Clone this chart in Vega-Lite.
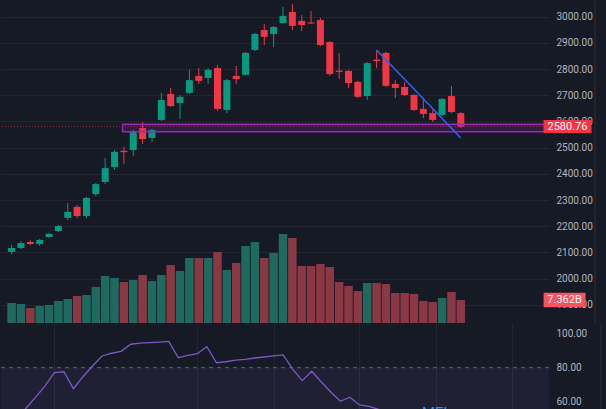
{
  "$schema": "https://vega.github.io/schema/vega-lite/v6.json",
  "background": "#161a25",
  "padding": 0,
  "spacing": 0,
  "bounds": "flush",
  "config": {
    "font": "Roboto",
    "view": {"stroke": null},
    "locale": {"number": {"decimal": ".", "thousands": ",", "grouping": [3], "currency": ["", "B"]}}
  },
  "datasets": {
    "candles": [
      {"i": 1, "o": 2102, "h": 2129, "l": 2094, "c": 2117, "v": 6.4, "dir": "up"},
      {"i": 2, "o": 2117, "h": 2143, "l": 2113, "c": 2136, "v": 6.08, "dir": "up"},
      {"i": 3, "o": 2140, "h": 2147, "l": 2128, "c": 2132, "v": 4.8, "dir": "down"},
      {"i": 4, "o": 2132, "h": 2152, "l": 2125, "c": 2148, "v": 5.44, "dir": "up"},
      {"i": 5, "o": 2159, "h": 2175, "l": 2156, "c": 2171, "v": 5.76, "dir": "up"},
      {"i": 6, "o": 2182, "h": 2205, "l": 2178, "c": 2201, "v": 7.04, "dir": "up"},
      {"i": 7, "o": 2232, "h": 2289, "l": 2224, "c": 2255, "v": 7.68, "dir": "up"},
      {"i": 8, "o": 2274, "h": 2281, "l": 2231, "c": 2239, "v": 8.64, "dir": "down"},
      {"i": 9, "o": 2239, "h": 2312, "l": 2231, "c": 2308, "v": 8.96, "dir": "up"},
      {"i": 10, "o": 2323, "h": 2365, "l": 2315, "c": 2361, "v": 11.52, "dir": "up"},
      {"i": 11, "o": 2369, "h": 2461, "l": 2361, "c": 2422, "v": 15.04, "dir": "up"},
      {"i": 12, "o": 2426, "h": 2491, "l": 2415, "c": 2484, "v": 14.4, "dir": "up"},
      {"i": 13, "o": 2488, "h": 2503, "l": 2438, "c": 2483, "v": 13.12, "dir": "down"},
      {"i": 14, "o": 2491, "h": 2568, "l": 2469, "c": 2560, "v": 13.76, "dir": "up"},
      {"i": 15, "o": 2575, "h": 2598, "l": 2514, "c": 2533, "v": 15.36, "dir": "down"},
      {"i": 16, "o": 2537, "h": 2572, "l": 2522, "c": 2568, "v": 13.44, "dir": "up"},
      {"i": 17, "o": 2606, "h": 2709, "l": 2602, "c": 2682, "v": 15.36, "dir": "up"},
      {"i": 18, "o": 2705, "h": 2728, "l": 2655, "c": 2659, "v": 18.56, "dir": "down"},
      {"i": 19, "o": 2671, "h": 2701, "l": 2610, "c": 2694, "v": 16.64, "dir": "up"},
      {"i": 20, "o": 2709, "h": 2797, "l": 2705, "c": 2758, "v": 20.8, "dir": "up"},
      {"i": 21, "o": 2774, "h": 2804, "l": 2743, "c": 2755, "v": 20.8, "dir": "down"},
      {"i": 22, "o": 2766, "h": 2804, "l": 2743, "c": 2797, "v": 20.8, "dir": "up"},
      {"i": 23, "o": 2804, "h": 2816, "l": 2640, "c": 2648, "v": 22.72, "dir": "down"},
      {"i": 24, "o": 2644, "h": 2762, "l": 2632, "c": 2758, "v": 16.96, "dir": "up"},
      {"i": 25, "o": 2774, "h": 2812, "l": 2743, "c": 2762, "v": 19.2, "dir": "down"},
      {"i": 26, "o": 2778, "h": 2866, "l": 2774, "c": 2862, "v": 24.64, "dir": "up"},
      {"i": 27, "o": 2873, "h": 2938, "l": 2869, "c": 2934, "v": 25.92, "dir": "up"},
      {"i": 28, "o": 2949, "h": 2972, "l": 2892, "c": 2923, "v": 20.8, "dir": "down"},
      {"i": 29, "o": 2934, "h": 2964, "l": 2884, "c": 2961, "v": 22.4, "dir": "up"},
      {"i": 30, "o": 2976, "h": 3037, "l": 2972, "c": 3003, "v": 28.48, "dir": "up"},
      {"i": 31, "o": 3018, "h": 3048, "l": 2949, "c": 2965, "v": 27.2, "dir": "down"},
      {"i": 32, "o": 2984, "h": 3006, "l": 2945, "c": 2968, "v": 18.24, "dir": "down"},
      {"i": 33, "o": 2978, "h": 3022, "l": 2972, "c": 2974, "v": 18.24, "dir": "down"},
      {"i": 34, "o": 2987, "h": 2995, "l": 2888, "c": 2892, "v": 18.88, "dir": "down"},
      {"i": 35, "o": 2903, "h": 2907, "l": 2774, "c": 2781, "v": 17.92, "dir": "down"},
      {"i": 36, "o": 2794, "h": 2861, "l": 2762, "c": 2789, "v": 13.12, "dir": "down"},
      {"i": 37, "o": 2793, "h": 2797, "l": 2728, "c": 2747, "v": 11.84, "dir": "down"},
      {"i": 38, "o": 2751, "h": 2755, "l": 2690, "c": 2694, "v": 10.24, "dir": "down"},
      {"i": 39, "o": 2697, "h": 2827, "l": 2682, "c": 2823, "v": 12.8, "dir": "up"},
      {"i": 40, "o": 2836, "h": 2873, "l": 2804, "c": 2831, "v": 12.8, "dir": "down"},
      {"i": 41, "o": 2862, "h": 2866, "l": 2732, "c": 2736, "v": 12.48, "dir": "down"},
      {"i": 42, "o": 2743, "h": 2758, "l": 2690, "c": 2728, "v": 9.6, "dir": "down"},
      {"i": 43, "o": 2732, "h": 2751, "l": 2697, "c": 2701, "v": 9.6, "dir": "down"},
      {"i": 44, "o": 2701, "h": 2705, "l": 2640, "c": 2644, "v": 9.28, "dir": "down"},
      {"i": 45, "o": 2648, "h": 2686, "l": 2613, "c": 2629, "v": 7.04, "dir": "down"},
      {"i": 46, "o": 2632, "h": 2644, "l": 2598, "c": 2606, "v": 6.72, "dir": "down"},
      {"i": 47, "o": 2625, "h": 2690, "l": 2621, "c": 2686, "v": 8.0, "dir": "up"},
      {"i": 48, "o": 2697, "h": 2735, "l": 2632, "c": 2636, "v": 9.92, "dir": "down"},
      {"i": 49, "o": 2632, "h": 2636, "l": 2575, "c": 2580.76, "v": 7.362, "dir": "down"}
    ],
    "mfi": [
      {"i": 1, "m": 40}, {"i": 2, "m": 47}, {"i": 3, "m": 56}, {"i": 4, "m": 62.4},
      {"i": 5, "m": 69.2}, {"i": 6, "m": 77.1}, {"i": 7, "m": 77.6}, {"i": 8, "m": 67.6},
      {"i": 9, "m": 74.7}, {"i": 10, "m": 81.0}, {"i": 11, "m": 86.9}, {"i": 12, "m": 88.5},
      {"i": 13, "m": 89.6}, {"i": 14, "m": 93.8}, {"i": 15, "m": 94.4}, {"i": 16, "m": 94.7},
      {"i": 17, "m": 95.1}, {"i": 18, "m": 95.5}, {"i": 19, "m": 85.9}, {"i": 20, "m": 87.3},
      {"i": 21, "m": 88.2}, {"i": 22, "m": 92.4}, {"i": 23, "m": 82.9}, {"i": 24, "m": 83.5},
      {"i": 25, "m": 84.4}, {"i": 26, "m": 84.9}, {"i": 27, "m": 85.7}, {"i": 28, "m": 86.3},
      {"i": 29, "m": 86.9}, {"i": 30, "m": 87.5}, {"i": 31, "m": 79.2}, {"i": 32, "m": 72.4},
      {"i": 33, "m": 77.9}, {"i": 34, "m": 71.6}, {"i": 35, "m": 65.7}, {"i": 36, "m": 60.2},
      {"i": 37, "m": 62.6}, {"i": 38, "m": 58.1}, {"i": 39, "m": 57.3}, {"i": 40, "m": 55.5},
      {"i": 41, "m": 50}, {"i": 42, "m": 46}, {"i": 43, "m": 43}, {"i": 44, "m": 40},
      {"i": 45, "m": 37}, {"i": 46, "m": 34}, {"i": 47, "m": 38}, {"i": 48, "m": 36},
      {"i": 49, "m": 31}
    ],
    "trend": [
      {"i": 40, "p": 2873},
      {"i": 49, "p": 2537}
    ],
    "zone": [
      {"start": 12.86, "end": 58, "lo": 2561, "hi": 2589}
    ],
    "one": [{}]
  },
  "vconcat": [
    {
      "width": 548,
      "height": 322,
      "data": {"name": "candles"},
      "resolve": {"scale": {"y": "independent", "color": "independent"}},
      "layer": [
        {
          "mark": {"type": "bar", "width": 8.5},
          "encoding": {
            "x": {"field": "i", "type": "quantitative", "scale": {"domain": [0.402, 57.89], "nice": false, "zero": false},
                  "axis": {"values": [6, 21, 29, 38, 46, 54], "labels": false, "ticks": false, "domain": false, "title": null, "grid": true, "gridColor": "#232632", "gridWidth": 1}},
            "y": {"field": "v", "type": "quantitative", "scale": {"domain": [0, 103.04], "nice": false, "zero": false}, "axis": null},
            "color": {"field": "dir", "type": "nominal", "scale": {"domain": ["up", "down"], "range": ["#1f6a5f", "#8a3844"]}, "legend": null}
          }
        },
        {
          "mark": {"type": "rule", "color": "#f23645", "strokeDash": [1, 2], "opacity": 0.6, "strokeWidth": 1},
          "transform": [{"filter": "datum.i == 49"}],
          "encoding": {
            "y": {"field": "c", "type": "quantitative", "scale": {"domain": [1830.8, 3059.9], "nice": false, "zero": false},
                  "axis": {"orient": "right", "values": [1900, 2000, 2100, 2200, 2300, 2400, 2500, 2600, 2700, 2800, 2900, 3000], "format": ".2f",
                           "labelColor": "#b2b5be", "labelFont": "Roboto", "labelFontSize": 10, "labelPadding": 7, "ticks": false, "domain": false,
                           "title": null, "grid": true, "gridColor": "#232632", "gridWidth": 1, "minExtent": 58, "maxExtent": 58}}
          }
        },
        {
          "mark": {"type": "rule", "strokeWidth": 1},
          "encoding": {
            "x": {"field": "i", "type": "quantitative", "axis": null},
            "y": {"field": "l", "type": "quantitative", "scale": {"domain": [1830.8, 3059.9], "nice": false, "zero": false}, "axis": null},
            "y2": {"field": "h"},
            "color": {"field": "dir", "type": "nominal", "scale": {"domain": ["up", "down"], "range": ["#089981", "#f23645"]}, "legend": null}
          }
        },
        {
          "mark": {"type": "bar", "width": 7},
          "encoding": {
            "x": {"field": "i", "type": "quantitative", "axis": null},
            "y": {"field": "o", "type": "quantitative", "scale": {"domain": [1830.8, 3059.9], "nice": false, "zero": false}, "axis": null},
            "y2": {"field": "c"},
            "color": {"field": "dir", "type": "nominal", "scale": {"domain": ["up", "down"], "range": ["#089981", "#f23645"]}, "legend": null}
          }
        },
        {
          "data": {"name": "zone"},
          "mark": {"type": "rect", "fill": "#9c27b0", "fillOpacity": 0.2, "stroke": "#9c27b0", "strokeWidth": 1.5, "clip": true},
          "encoding": {
            "x": {"field": "start", "type": "quantitative", "axis": null},
            "x2": {"field": "end"},
            "y": {"field": "lo", "type": "quantitative", "scale": {"domain": [1830.8, 3059.9], "nice": false, "zero": false}, "axis": null},
            "y2": {"field": "hi"}
          }
        },
        {
          "data": {"name": "trend"},
          "mark": {"type": "line", "color": "#2962ff", "strokeWidth": 1.5},
          "encoding": {
            "x": {"field": "i", "type": "quantitative", "axis": null},
            "y": {"field": "p", "type": "quantitative", "scale": {"domain": [1830.8, 3059.9], "nice": false, "zero": false}, "axis": null}
          }
        },
        {
          "transform": [{"filter": "datum.i == 49"}],
          "mark": {"type": "point", "shape": "M-1,-0.27H1V0.27H-1Z", "size": 2304, "filled": true, "opacity": 1, "color": "#f23645", "strokeWidth": 0},
          "encoding": {
            "x": {"datum": 60.4, "type": "quantitative", "axis": null},
            "y": {"field": "c", "type": "quantitative", "scale": {"domain": [1830.8, 3059.9], "nice": false, "zero": false}, "axis": null}
          }
        },
        {
          "transform": [{"filter": "datum.i == 49"}],
          "mark": {"type": "text", "color": "#ffffff", "fontSize": 11, "align": "center", "baseline": "middle", "dy": 0.5},
          "encoding": {
            "x": {"datum": 60.4, "type": "quantitative", "axis": null},
            "y": {"field": "c", "type": "quantitative", "scale": {"domain": [1830.8, 3059.9], "nice": false, "zero": false}, "axis": null},
            "text": {"field": "c", "type": "quantitative", "format": ".2f"}
          }
        },
        {
          "transform": [{"filter": "datum.i == 49"}],
          "mark": {"type": "point", "shape": "M-1,-0.34H1V0.34H-1Z", "size": 1764, "filled": true, "opacity": 1, "color": "#f7525f", "strokeWidth": 0},
          "encoding": {
            "x": {"datum": 60.09, "type": "quantitative", "axis": null},
            "y": {"field": "v", "type": "quantitative", "scale": {"domain": [0, 103.04], "nice": false, "zero": false}, "axis": null}
          }
        },
        {
          "transform": [{"filter": "datum.i == 49"}],
          "mark": {"type": "text", "color": "#ffffff", "fontSize": 11, "align": "center", "baseline": "middle", "dy": 0.5},
          "encoding": {
            "x": {"datum": 60.09, "type": "quantitative", "axis": null},
            "y": {"field": "v", "type": "quantitative", "scale": {"domain": [0, 103.04], "nice": false, "zero": false}, "axis": null},
            "text": {"field": "v", "type": "quantitative", "format": "$.3f"}
          }
        },
        {
          "data": {"name": "one"},
          "mark": {"type": "rule", "color": "#2a2e39", "strokeWidth": 1},
          "encoding": {
            "x": {"datum": 63.34, "type": "quantitative", "axis": null}
          }
        }
      ]
    },
    {
      "width": 548,
      "height": 87,
      "layer": [
        {
          "data": {"name": "one"},
          "mark": {"type": "rect", "color": "#7e57c2", "opacity": 0.1, "clip": true},
          "encoding": {
            "x": {"datum": 0.402, "type": "quantitative", "scale": {"domain": [0.402, 57.89], "nice": false, "zero": false},
                  "axis": {"values": [6, 21, 29, 38, 46, 54], "labels": false, "ticks": false, "domain": false, "title": null, "grid": true, "gridColor": "#232632", "gridWidth": 1}},
            "x2": {"datum": 57.89},
            "y": {"datum": 80, "type": "quantitative", "scale": {"domain": [55.1, 106.3], "nice": false, "zero": false},
                  "axis": {"orient": "right", "values": [60, 80, 100], "format": ".2f", "labelColor": "#b2b5be", "labelFont": "Roboto", "labelFontSize": 10,
                           "labelPadding": 7, "ticks": false, "domain": false, "title": null, "grid": false, "minExtent": 58, "maxExtent": 58}},
            "y2": {"datum": 20}
          }
        },
        {
          "data": {"name": "one"},
          "mark": {"type": "rule", "color": "#787b86", "strokeDash": [4, 4], "opacity": 0.8, "strokeWidth": 1},
          "encoding": {
            "y": {"datum": 80, "type": "quantitative"}
          }
        },
        {
          "data": {"name": "mfi"},
          "mark": {"type": "line", "color": "#7e57c2", "strokeWidth": 1.3, "clip": true},
          "encoding": {
            "x": {"field": "i", "type": "quantitative"},
            "y": {"field": "m", "type": "quantitative"}
          }
        },
        {
          "data": {"name": "one"},
          "mark": {"type": "text", "text": "MFI", "color": "#2196f3", "fontSize": 15, "align": "left", "baseline": "top"},
          "encoding": {
            "x": {"datum": 44.56, "type": "quantitative"},
            "y": {"datum": 57.5, "type": "quantitative"}
          }
        },
        {
          "data": {"name": "one"},
          "mark": {"type": "rule", "color": "#2a2e39", "strokeWidth": 1},
          "encoding": {
            "x": {"datum": 63.34, "type": "quantitative"}
          }
        }
      ]
    }
  ]
}
